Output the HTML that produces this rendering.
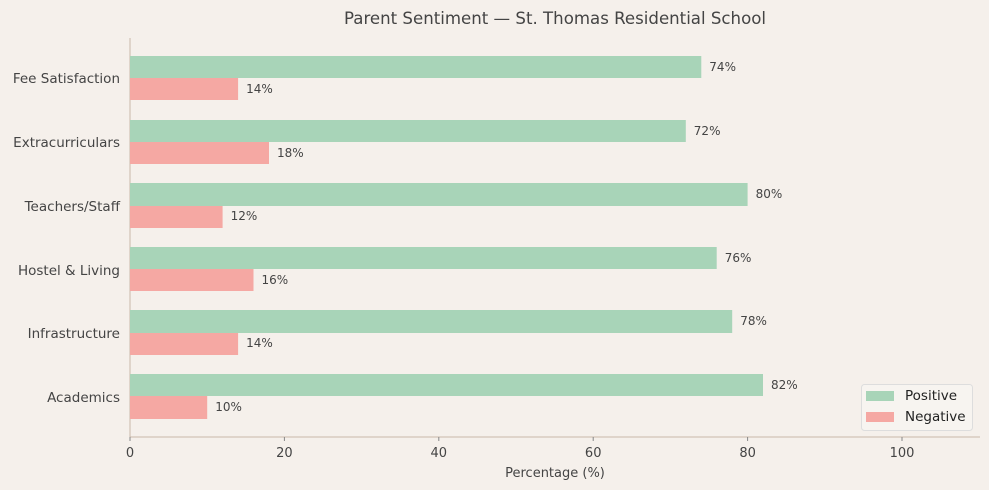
<!DOCTYPE html>
<html><head><style>
body{margin:0;background:#f5f0eb;}
svg{display:block;font-family:"DejaVu Sans",sans-serif;}
</style></head><body>
<svg width="989" height="490" viewBox="0 0 989 490" xmlns="http://www.w3.org/2000/svg">
<rect width="989" height="490" fill="#f5f0eb"/>
<text x="555" y="24" text-anchor="middle" font-size="16.5" fill="#444" textLength="422" lengthAdjust="spacingAndGlyphs">Parent Sentiment — St. Thomas Residential School</text>
<line x1="130" y1="38" x2="130" y2="437" stroke="#c9b8a8" stroke-width="1"/>
<line x1="130" y1="437" x2="980" y2="437" stroke="#c9b8a8" stroke-width="1"/>
<g font-size="13" fill="#444" text-anchor="middle">
<line x1="130" y1="437" x2="130" y2="441" stroke="#888"/><text x="130" y="457">0</text>
<line x1="284.4" y1="437" x2="284.4" y2="441" stroke="#888"/><text x="284.4" y="457">20</text>
<line x1="438.8" y1="437" x2="438.8" y2="441" stroke="#888"/><text x="438.8" y="457">40</text>
<line x1="593.2" y1="437" x2="593.2" y2="441" stroke="#888"/><text x="593.2" y="457">60</text>
<line x1="747.6" y1="437" x2="747.6" y2="441" stroke="#888"/><text x="747.6" y="457">80</text>
<line x1="902" y1="437" x2="902" y2="441" stroke="#888"/><text x="902" y="457">100</text>
</g>
<text x="555" y="477" text-anchor="middle" font-size="13" fill="#444">Percentage (%)</text>
<g font-size="13.5" fill="#444" text-anchor="end">
<text x="120" y="83">Fee Satisfaction</text>
<text x="120" y="147">Extracurriculars</text>
<text x="120" y="211">Teachers/Staff</text>
<text x="120" y="275">Hostel &amp; Living</text>
<text x="120" y="338">Infrastructure</text>
<text x="120" y="402">Academics</text>
</g>
<g font-size="12" fill="#444">
<rect x="130" y="56" width="571.3" height="22" fill="#a8d4b8"/><text x="709.3" y="71">74%</text>
<rect x="130" y="78" width="108.1" height="22" fill="#f5a8a3"/><text x="246.1" y="93">14%</text>
<rect x="130" y="120" width="555.8" height="22" fill="#a8d4b8"/><text x="693.8" y="135">72%</text>
<rect x="130" y="142" width="139" height="22" fill="#f5a8a3"/><text x="277" y="157">18%</text>
<rect x="130" y="183" width="617.6" height="23" fill="#a8d4b8"/><text x="755.6" y="198">80%</text>
<rect x="130" y="206" width="92.6" height="22" fill="#f5a8a3"/><text x="230.6" y="220">12%</text>
<rect x="130" y="247" width="586.7" height="22" fill="#a8d4b8"/><text x="724.7" y="262">76%</text>
<rect x="130" y="269" width="123.5" height="22" fill="#f5a8a3"/><text x="261.5" y="284">16%</text>
<rect x="130" y="310" width="602.2" height="23" fill="#a8d4b8"/><text x="740.2" y="325">78%</text>
<rect x="130" y="333" width="108.1" height="22" fill="#f5a8a3"/><text x="246.1" y="347">14%</text>
<rect x="130" y="374" width="633" height="22" fill="#a8d4b8"/><text x="771" y="389">82%</text>
<rect x="130" y="396" width="77.2" height="23" fill="#f5a8a3"/><text x="215.2" y="411">10%</text>
</g>
<rect x="861.5" y="384.5" width="111" height="46" rx="3" fill="#f7f4f0" stroke="#ddd"/>
<rect x="866" y="391" width="28" height="10" fill="#a8d4b8"/>
<text x="905" y="400" font-size="13.5" fill="#222">Positive</text>
<rect x="866" y="412" width="28" height="10" fill="#f5a8a3"/>
<text x="905" y="421" font-size="13.5" fill="#222">Negative</text>
</svg>
</body></html>
